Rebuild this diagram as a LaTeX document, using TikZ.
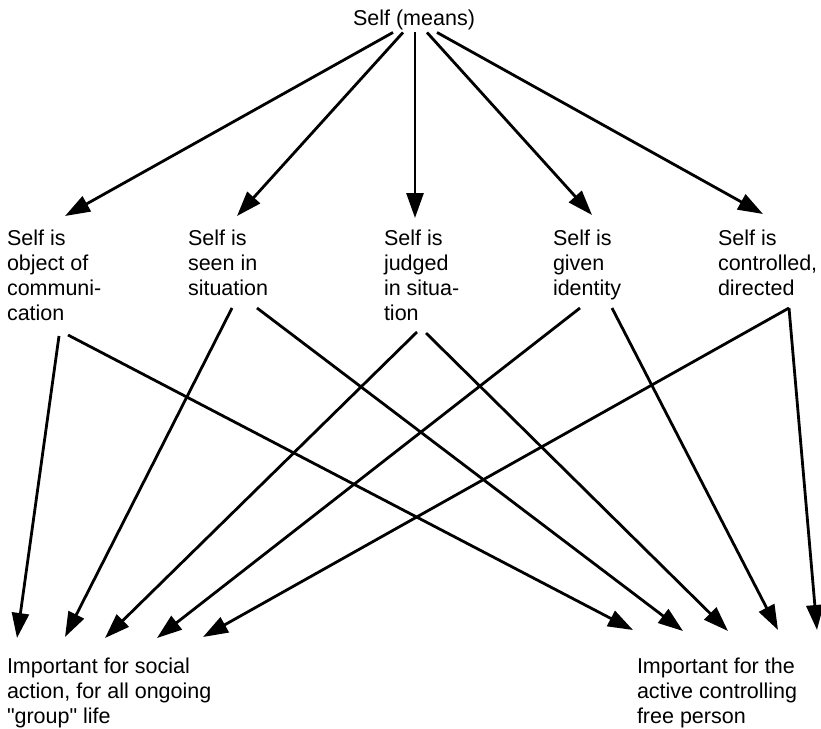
\documentclass[tikz,border=0pt]{standalone}
\usepackage{fontspec}
\setmainfont{Liberation Sans}
\usetikzlibrary{arrows.meta,calc}
\begin{document}
\begin{tikzpicture}[x=1pt,y=-1pt,
  lbl/.style={font=\fontsize{21.5}{25}\selectfont, inner sep=0pt, outer sep=0pt, align=left, anchor=north west},
  toplbl/.style={font=\fontsize{21.5}{25}\selectfont, inner sep=0pt, outer sep=0pt, anchor=base},
  arr/.style={line width=2.8pt, -{Triangle[length=25pt,width=17pt]}}]
\useasboundingbox (0,0) rectangle (821,728);

% nodes
\node[toplbl] (top) at (414,25) {Self (means)};
\node[lbl] (m1) at (7,230)   {Self is\\object of\\communi-\\cation};
\node[lbl] (m2) at (188,230) {Self is\\seen in\\situation};
\node[lbl] (m3) at (384,230) {Self is\\judged\\in situa-\\tion};
\node[lbl] (m4) at (553,230) {Self is\\given\\identity};
\node[lbl] (m5) at (718,230) {Self is\\controlled,\\directed};
\node[lbl] (b1) at (7,658)   {Important for social\\action, for all ongoing\\\textquotedbl group\textquotedbl{} life};
\node[lbl] (b2) at (637,658) {Important for the\\active controlling\\free person};

% top fan
\draw[arr] ($(top.south)+(-21,3)$) -- ($(m1.north west)+(58,-14)$);
\draw[arr] ($(top.south)+(-11,3)$) -- ($(m2.north west)+(49,-14)$);
\draw[arr] ($(top.south)+(1,3)$)   -- ($(m3.north west)+(31,-12)$);
\draw[arr] ($(top.south)+(13,3)$)  -- ($(m4.north west)+(39,-15)$);
\draw[arr] ($(top.south)+(23,3)$)  -- ($(m5.north west)+(45,-16)$);

% to left bottom
\draw[arr] ($(m1.north west)+(52,106)$) -- ($(b1.north west)+(10,-20)$);
\draw[arr] ($(m2.north west)+(44,78)$)  -- ($(b1.north west)+(58,-21)$);
\draw[arr] ($(m3.north west)+(33,102)$) -- ($(b1.north west)+(98,-20)$);
\draw[arr] ($(m4.north west)+(27,78)$)  -- ($(b1.north west)+(150,-20)$);
\draw[arr] ($(m5.north west)+(71,78)$)  -- ($(b1.north west)+(196,-21)$);

% to right bottom
\draw[arr] ($(m1.north west)+(61,105)$) -- ($(b2.north west)+(-4,-28)$);
\draw[arr] ($(m2.north west)+(69,78)$)  -- ($(b2.north west)+(46,-27)$);
\draw[arr] ($(m3.north west)+(42,103)$) -- ($(b2.north west)+(91,-27)$);
\draw[arr] ($(m4.north west)+(59,78)$)  -- ($(b2.north west)+(141,-28)$);
\draw[arr] ($(m5.north west)+(71,78)$)  -- ($(b2.north west)+(180,-28)$);
\end{tikzpicture}
\end{document}
